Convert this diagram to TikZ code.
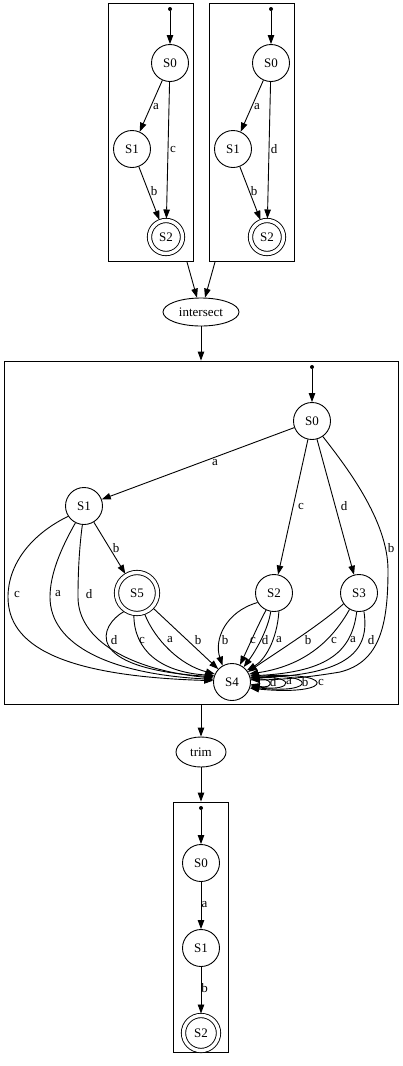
\documentclass[tikz,border=0pt]{standalone}
\usepackage{fontspec}
\setmainfont{Liberation Serif}
\usetikzlibrary{arrows.meta,shapes.geometric}
\begin{document}
\begin{tikzpicture}[x=1pt,y=-1pt,
  every node/.style={font=\fontsize{13}{15}\selectfont},
  state/.style={circle,draw,line width=0.9pt,minimum size=37pt,inner sep=0pt},
  accept/.style={state,double,double distance=3.4pt,outer sep=2pt},
  startdot/.style={circle,fill,inner sep=0pt,minimum size=4pt},
  cluster/.style={draw,line width=0.9pt,inner sep=0pt},
  proc/.style={ellipse,draw,line width=0.9pt,inner sep=0pt},
  lbl/.style={inner sep=0pt},
  arr/.style={line width=0.9pt,-{Triangle[length=9pt,width=6.5pt]}},
]
\useasboundingbox (0,0) rectangle (402,1066);

% ---------- top-left cluster
\node[cluster,minimum width=85pt,minimum height=258pt] (clA) at (150.5,132.5) {};
\node[startdot] (a0) at (170,9) {};
\node[state] (aS0) at (170,63) {S0};
\node[state] (aS1) at (132,149) {S1};
\node[accept,minimum size=33pt] (aS2) at (166,237) {S2};
\draw[arr] (a0) -- (aS0);
\draw[arr] (aS0) -- (aS1);
\draw[arr] (aS0) -- (aS2);
\draw[arr] (aS1) -- (aS2);
\node[lbl] (la1) at (156,107) {a};
\node[lbl] (la2) at (173,149) {c};
\node[lbl] (la3) at (154,191) {b};

% ---------- top-right cluster
\node[cluster,minimum width=85pt,minimum height=258pt] (clB) at (251.5,132.5) {};
\node[startdot] (b0dot) at (271,9) {};
\node[state] (rS0) at (271,63) {S0};
\node[state] (rS1) at (233,149) {S1};
\node[accept,minimum size=33pt] (rS2) at (267,237) {S2};
\draw[arr] (b0dot) -- (rS0);
\draw[arr] (rS0) -- (rS1);
\draw[arr] (rS0) -- (rS2);
\draw[arr] (rS1) -- (rS2);
\node[lbl] (lr1) at (257,107) {a};
\node[lbl] (lr2) at (274,149) {d};
\node[lbl] (lr3) at (254,191) {b};

% ---------- intersect
\node[proc,minimum width=76pt,minimum height=28pt] (inter) at (201,312) {intersect};
\coordinate (ea) at (187,262);
\coordinate (eb) at (215,262);
\draw[arr] (ea) -- (inter);
\draw[arr] (eb) -- (inter);

% ---------- big cluster
\node[cluster,minimum width=394pt,minimum height=343pt] (clC) at (201,532.5) {};
\draw[arr] (inter) -- (clC.north);

\node[startdot] (cdot) at (312,367) {};
\node[state] (c0) at (312,421) {S0};
\node[state] (c1) at (84,506) {S1};
\node[accept,minimum size=41pt] (c5) at (137,593) {S5};
\node[state] (c2) at (274,593) {S2};
\node[state] (c3) at (359,593) {S3};
\node[state] (c4) at (232,682) {S4};

\draw[arr] (cdot) -- (c0);
\draw[arr] (c0) -- (c1);
\draw[arr] (c0) -- (c2);
\draw[arr] (c0) -- (c3);
\draw[arr] (c0.-55) .. controls (345,465) and (388,520) .. (388,570)
   .. controls (388,625) and (380,662) .. (340,672)
   .. controls (305,678) and (275,680) .. (c4.7);
\node[lbl] (lc01) at (215,463) {a};
\node[lbl] (lc02) at (301,506) {c};
\node[lbl] (lc03) at (344,506) {d};
\node[lbl] (lc04) at (391,548) {b};

\draw[arr] (c1) -- (c5);
\node[lbl] (lc15) at (116,548) {b};
\draw[arr] (c1.213) .. controls (30,535) and (8,565) .. (8,597)
   .. controls (8,645) and (60,676) .. (c4.176);
\draw[arr] (c1.243) .. controls (60,550) and (50,575) .. (50,597)
   .. controls (50,645) and (110,674) .. (c4.172);
\draw[arr] (c1.265) .. controls (79,550) and (78,575) .. (78,597)
   .. controls (78,640) and (130,670) .. (c4.168);
\node[lbl] (lc14c) at (17,594) {c};
\node[lbl] (lc14a) at (58,594) {a};
\node[lbl] (lc14d) at (89,594) {d};

\draw[arr] (c5.235) .. controls (100,625) and (80,668) .. (c4.164);
\draw[arr] (c5.262) .. controls (134,650) and (160,672) .. (c4.160);
\draw[arr] (c5.290) .. controls (155,640) and (180,665) .. (c4.155);
\draw[arr] (c5) -- (c4);
\node[lbl] (lc54d) at (114,640) {d};
\node[lbl] (lc54c) at (142,640) {c};
\node[lbl] (lc54a) at (170,640) {a};
\node[lbl] (lc54b) at (198,640) {b};

\draw[arr] (c2.210) .. controls (225,612) and (214,640) .. (c4.120);
\draw[arr] (c2.245) .. controls (258,625) and (248,648) .. (c4.65);
\draw[arr] (c2.260) .. controls (268,630) and (255,652) .. (c4.52);
\draw[arr] (c2.285) .. controls (277,640) and (265,660) .. (c4.38);
\node[lbl] (lc24b) at (225,640) {b};
\node[lbl] (lc24c) at (253,640) {c};
\node[lbl] (lc24d) at (265,640) {d};
\node[lbl] (lc24a) at (279,640) {a};

\draw[arr] (c3.215) .. controls (320,625) and (280,650) .. (c4.32);
\draw[arr] (c3.240) .. controls (335,635) and (310,665) .. (c4.25);
\draw[arr] (c3.263) .. controls (352,650) and (330,672) .. (c4.19);
\draw[arr] (c3.285) .. controls (370,650) and (350,675) .. (c4.13);
\node[lbl] (lc34b) at (308,640) {b};
\node[lbl] (lc34c) at (334,640) {c};
\node[lbl] (lc34a) at (353,640) {a};
\node[lbl] (lc34d) at (371,640) {d};

% self loops
\draw[arr] (c4.6) .. controls (275,675) and (275,690) .. (c4.-7);
\draw[arr] (c4.9) .. controls (296,672) and (296,693) .. (c4.-11);
\draw[arr] (c4.12) .. controls (318,670) and (318,695) .. (c4.-15);
\draw[arr] (c4.15) .. controls (338,668) and (338,697) .. (c4.-19);
\node[lbl] (lc44d) at (273,682) {d};
\node[lbl] (lc44a) at (289,682) {a};
\node[lbl] (lc44b) at (305,682) {b};
\node[lbl] (lc44c) at (321,682) {c};

% ---------- trim
\node[proc,minimum width=50pt,minimum height=30pt] (trim) at (201,752) {trim};
\draw[arr] (clC.south) -- (trim);

% ---------- bottom cluster
\node[cluster,minimum width=55pt,minimum height=250pt] (clD) at (201,927) {};
\draw[arr] (trim) -- (clD.north);
\node[startdot] (ddot) at (201,808) {};
\node[state] (d0) at (201,863) {S0};
\node[state] (d1) at (201,948) {S1};
\node[accept,minimum size=35pt] (d2) at (201,1033) {S2};
\draw[arr] (ddot) -- (d0);
\draw[arr] (d0) -- (d1);
\draw[arr] (d1) -- (d2);
\node[lbl] (ld01) at (204.5,905) {a};
\node[lbl] (ld12) at (204.5,988) {b};
\end{tikzpicture}
\end{document}
